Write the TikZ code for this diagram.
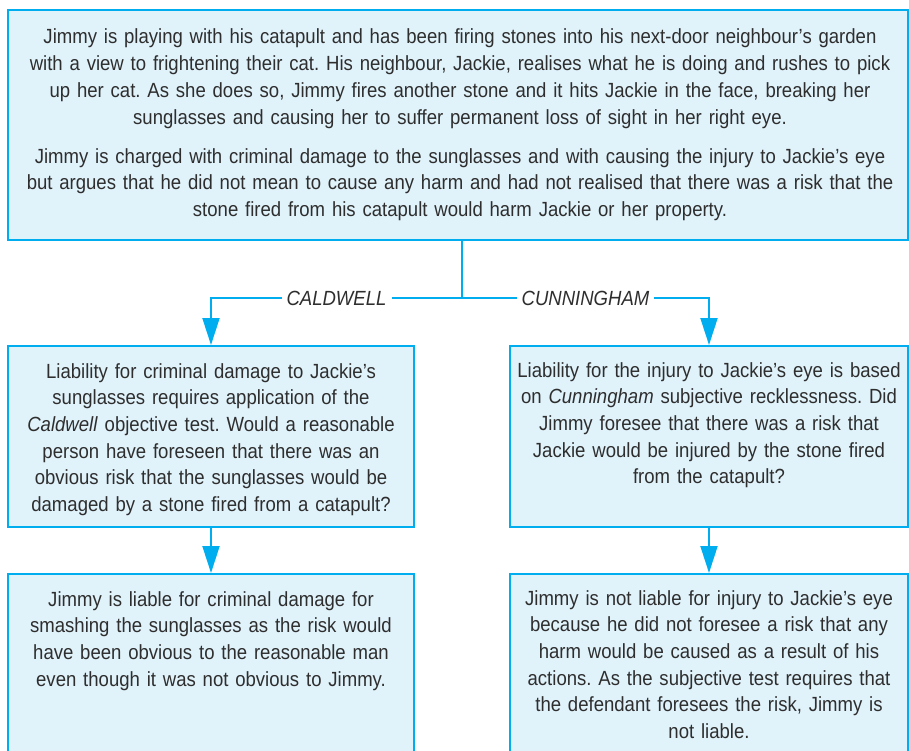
\documentclass[tikz,border=0pt]{standalone}
\usepackage{fontspec}
\setmainfont[FakeStretch=0.905]{Liberation Sans}
\usetikzlibrary{arrows.meta,calc}
\definecolor{boxfill}{HTML}{E0F2FA}
\definecolor{boxline}{HTML}{00AEEF}
\definecolor{ink}{HTML}{2E2E2E}
\frenchspacing
\begin{document}
\begin{tikzpicture}[x=1pt,y=-1pt,
  box/.style={draw=boxline, fill=boxfill, line width=2pt, inner sep=0pt},
  txt/.style={text=ink, align=center, inner sep=0pt, text width=#1,
    font=\fontsize{20.5}{26.7}\selectfont},
  txt/.default=880pt,
  link/.style={draw=boxline, line width=2pt},
  arrowlink/.style={link, -{Triangle[length=27pt,width=17pt]}},
  lab/.style={fill=white, text=ink, inner xsep=5pt, inner ysep=2pt,
    font=\fontsize{20.5}{24}\selectfont\itshape}]
\useasboundingbox (0,0) rectangle (909,751);
\clip (0,0) rectangle (909,751);

% boxes
\node[box, minimum width=900pt, minimum height=230pt] (top) at (458,125) {};
\node[box, minimum width=406pt, minimum height=181pt] (lmid) at (211,436.5) {};
\node[box, minimum width=398pt, minimum height=181pt] (rmid) at (709,436.5) {};
\node[box, minimum width=406pt, minimum height=220pt] (lbot) at (211,684) {};
\node[box, minimum width=398pt, minimum height=220pt] (rbot) at (709,684) {};

% texts
\node[txt, anchor=base] (ttop) at ($(top.north)+(2,35)$) {%
Jimmy is playing with his catapult and has been firing stones into his next-door neighbour’s garden\\
with a view to frightening their cat. His neighbour, Jackie, realises what he is doing and rushes to pick\\
up her cat. As she does so, Jimmy fires another stone and it hits Jackie in the face, breaking her\\
sunglasses and causing her to suffer permanent loss of sight in her right eye.\\[12.3pt]
Jimmy is charged with criminal damage to the sunglasses and with causing the injury to Jackie’s eye\\
but argues that he did not mean to cause any harm and had not realised that there was a risk that the\\
stone fired from his catapult would harm Jackie or her property.};

\node[txt=400pt, anchor=base] (tlmid) at ($(lmid.north)+(0,33)$) {%
Liability for criminal damage to Jackie’s\\
sunglasses requires application of the\\
\textit{Caldwell} objective test. Would a reasonable\\
person have foreseen that there was an\\
obvious risk that the sunglasses would be\\
damaged by a stone fired from a catapult?};

\node[txt=392pt, anchor=base] (trmid) at ($(rmid.north)+(0,32)$) {%
Liability for the injury to Jackie’s eye is based\\
on \textit{Cunningham} subjective recklessness. Did\\
Jimmy foresee that there was a risk that\\
Jackie would be injured by the stone fired\\
from the catapult?};

\node[txt=400pt, anchor=base] (tlbot) at ($(lbot.north)+(0,33)$) {%
Jimmy is liable for criminal damage for\\
smashing the sunglasses as the risk would\\
have been obvious to the reasonable man\\
even though it was not obvious to Jimmy.};

\node[txt=392pt, anchor=base] (trbot) at ($(rbot.north)+(0,32)$) {%
Jimmy is not liable for injury to Jackie’s eye\\
because he did not foresee a risk that any\\
harm would be caused as a result of his\\
actions. As the subjective test requires that\\
the defendant foresees the risk, Jimmy is\\
not liable.};

% connectors
\coordinate (split) at (462,298);
\draw[link] (top.south -| split) -- (split);
\draw[arrowlink] (split) -- node[lab] {CALDWELL} (split -| lmid.north) -- (lmid.north);
\draw[arrowlink] (split) -- node[lab] {CUNNINGHAM} (split -| rmid.north) -- (rmid.north);
\draw[arrowlink] (lmid.south) -- (lbot.north);
\draw[arrowlink] (rmid.south) -- (rbot.north);
\end{tikzpicture}
\end{document}
